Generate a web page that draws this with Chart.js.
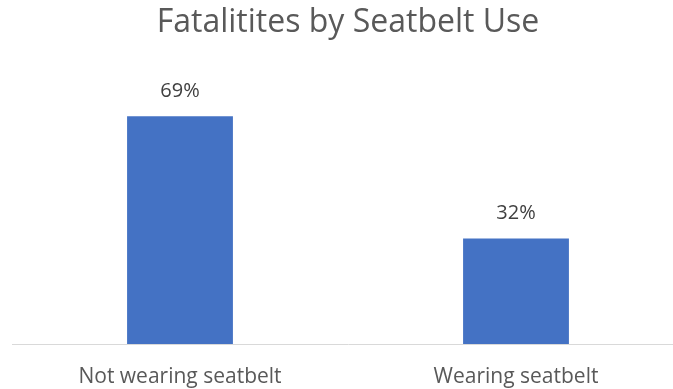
<!DOCTYPE html>
<html lang="en">
<head>
  <meta charset="UTF-8" />
  <title>Fatalitites by Seatbelt Use</title>
  <script src="https://cdn.jsdelivr.net/npm/chart.js"></script>
  <style>
    html, body { margin: 0; padding: 0; background: #fff; overflow: hidden; }
    /* the original chart is a little wider than the frame and cut off at the right */
    #wrap { width: 684px; height: 389px; }
  </style>
</head>
<body>
<div id="wrap"><canvas id="chartCanvas"></canvas></div>
<script>
  const categories = ['Not wearing seatbelt', 'Wearing seatbelt'];
  const fatalityShare = [69, 32];
  const valueLabels = ['69%', '32%'];

  const FONT = '"Open Sans", sans-serif';

  // draws the % labels above each bar
  const barLabels = {
    id: 'barLabels',
    afterDatasetsDraw(chart) {
      const ctx = chart.ctx;
      const meta = chart.getDatasetMeta(0);
      ctx.save();
      ctx.font = '20px ' + FONT;
      ctx.fillStyle = '#404040';
      ctx.textAlign = 'center';
      ctx.textBaseline = 'middle';
      meta.data.forEach((bar, i) => {
        ctx.fillText(valueLabels[i], bar.x, bar.y - 25);
      });
      ctx.restore();
    }
  };

  new Chart(document.getElementById('chartCanvas'), {
    type: 'bar',
    data: {
      labels: categories,
      datasets: [{
        data: fatalityShare,
        backgroundColor: '#4472C4',
        barPercentage: 0.315,
        categoryPercentage: 1
      }]
    },
    options: {
      responsive: true,
      maintainAspectRatio: false,
      animation: false,
      layout: { padding: { left: 12, right: 0, top: 4, bottom: -21 } },
      plugins: {
        legend: { display: false },
        tooltip: { enabled: false },
        title: {
          display: true,
          text: 'Fatalitites by Seatbelt Use',
          color: '#595959',
          font: { family: FONT, size: 32, weight: 'normal' },
          padding: { top: 0, bottom: 37.6 }
        }
      },
      scales: {
        y: {
          display: false,
          min: 0,
          max: 80
        },
        x: {
          grid: { display: false, drawTicks: false },
          border: { color: '#d9d9d9', width: 1 },
          ticks: {
            color: '#595959',
            font: { family: FONT, size: 21 },
            padding: 20.4
          }
        }
      }
    },
    plugins: [barLabels]
  });
</script>
</body>
</html>
